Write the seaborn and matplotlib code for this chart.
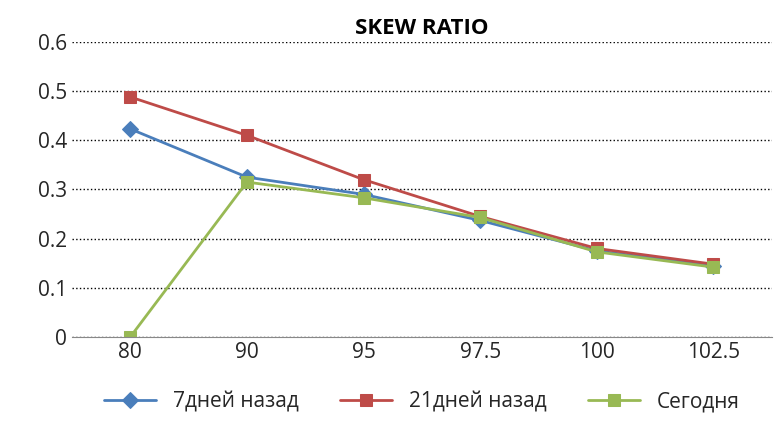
"""Skew ratio by strike, three snapshots."""

import matplotlib.pyplot as plt
import numpy as np
import pandas as pd
import seaborn as sns

STRIKES = ["80", "90", "95", "97.5", "100", "102.5"]
WEEK_AGO = [0.423, 0.325, 0.290, 0.237, 0.175, 0.145]
THREE_WEEKS_AGO = [0.488, 0.410, 0.320, 0.245, 0.180, 0.148]
TODAY = [0.0, 0.315, 0.283, 0.243, 0.173, 0.142]

SERIES = {
    "7дней назад": (WEEK_AGO, "#4a7ebb", "D"),
    "21дней назад": (THREE_WEEKS_AGO, "#be4b48", "s"),
    "Сегодня": (TODAY, "#98b954", "s"),
}

sns.set_style("white")
plt.rcParams["font.family"] = ["Open Sans", "DejaVu Sans"]

rows = []
for name, (vals, _, _) in SERIES.items():
    for i, v in enumerate(vals):
        rows.append({"pos": i, "value": v, "series": name})
df = pd.DataFrame(rows)

fig, ax = plt.subplots(figsize=(7.74, 4.32), dpi=100)
fig.subplots_adjust(left=0.093, right=0.997, top=0.903, bottom=0.22)

for name, (_, color, marker) in SERIES.items():
    sub = df[df["series"] == name]
    sns.lineplot(data=sub, x="pos", y="value", ax=ax, color=color, marker=marker,
                 markersize=9 if marker == "s" else 8, markeredgecolor=color,
                 linewidth=2, label=name)

ax.set_xlim(-0.5, len(STRIKES) - 0.5)
ax.set_ylim(0, 0.6)
ax.set_xticks(range(len(STRIKES)))
ax.set_xticklabels(STRIKES)
ax.set_xticks(np.arange(-0.5, len(STRIKES), 1.0), minor=True)
ax.tick_params(axis="x", which="minor", length=5, color="#888888", direction="out")
ax.set_yticks([0, 0.1, 0.2, 0.3, 0.4, 0.5, 0.6])
ax.set_yticklabels(["0", "0.1", "0.2", "0.3", "0.4", "0.5", "0.6"])
ax.tick_params(which="major", labelsize=15, length=0)
ax.set_xlabel("")
ax.set_ylabel("")
ax.yaxis.grid(True, color="black", linestyle=":", linewidth=1)
for s in ["top", "right", "left"]:
    ax.spines[s].set_visible(False)
ax.spines["bottom"].set_color("#888888")
ax.set_title("SKEW RATIO", fontsize=16, fontweight="bold", color="black", pad=6)
ax.legend(loc="upper center", bbox_to_anchor=(0.5, -0.12), ncol=3, frameon=False,
          fontsize=15, handlelength=2.5, columnspacing=2)

fig.savefig("out.png", dpi=100)
